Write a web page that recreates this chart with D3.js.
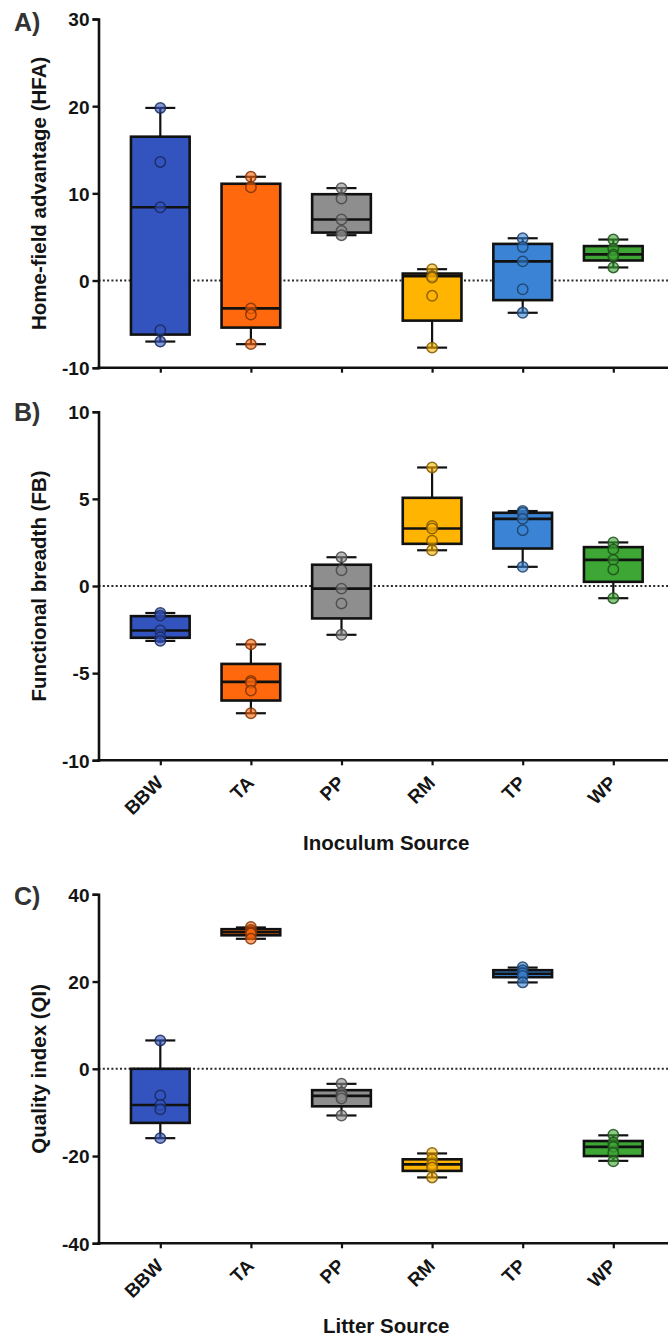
<!DOCTYPE html>
<html>
<head>
<meta charset="utf-8">
<script src="https://cdn.jsdelivr.net/npm/d3@7"></script>
<style>
  html, body { margin: 0; padding: 0; background: #fff; }
  svg text { font-family: "Liberation Sans", Arial, sans-serif; font-weight: bold; }
</style>
</head>
<body>
<svg id="chart" width="669" height="1339"></svg>
<script>
// Sources shared by all three panels
const sources = ["BBW", "TA", "PP", "RM", "TP", "WP"];
const sourceColors = ["#3353BE", "#FF680C", "#8E8E8E", "#FFB402", "#3B84D5", "#3DA635"];

// Panel A: home-field advantage — individual replicates and box stats [min, q1, median, q3, max]
const hfaPoints = [
  [19.8, 13.6, 8.4, -5.7, -7.0],
  [11.9, 10.7, -3.2, -3.9, -7.3],
  [10.6, 9.4, 7.0, 5.7, 5.2],
  [1.3, 0.5, 0.35, -1.75, -7.7],
  [4.85, 3.85, 2.2, -1.0, -3.7],
  [4.7, 3.65, 3.0, 2.8, 1.5]
];
const hfaBoxes = [
  [-7.0, -6.2, 8.4, 16.5, 19.8],
  [-7.3, -5.4, -3.2, 11.1, 11.9],
  [5.2, 5.5, 7.0, 9.9, 10.6],
  [-7.7, -4.6, 0.5, 0.8, 1.3],
  [-3.7, -2.25, 2.2, 4.2, 4.85],
  [1.5, 2.3, 3.0, 3.95, 4.7]
];
const hfaTicks = [-10, 0, 10, 20, 30];

// Panel B: functional breadth
const fbPoints = [
  [-1.55, -1.7, -2.55, -2.95, -3.15],
  [-3.35, -5.45, -5.55, -6.0, -7.3],
  [1.65, 0.9, -0.15, -1.0, -2.8],
  [6.8, 3.45, 3.3, 2.6, 2.05],
  [4.3, 4.2, 3.85, 3.2, 1.1],
  [2.5, 2.1, 1.5, 0.95, -0.7]
];
const fbBoxes = [
  [-3.15, -2.97, -2.55, -1.73, -1.55],
  [-7.3, -6.57, -5.5, -4.47, -3.35],
  [-2.8, -1.86, -0.15, 1.22, 1.65],
  [2.05, 2.42, 3.3, 5.06, 6.8],
  [1.1, 2.15, 3.85, 4.2, 4.3],
  [-0.7, 0.24, 1.5, 2.23, 2.5]
];
const fbTicks = [-10, -5, 0, 5, 10];

// Panel C: litter quality index
const qiPoints = [
  [6.5, -6.1, -8.3, -9.3, -15.9],
  [32.5, 31.8, 31.3, 31.0, 29.8],
  [-3.4, -5.5, -6.2, -6.8, -10.7],
  [-19.3, -20.7, -21.9, -22.6, -24.9],
  [23.3, 22.6, 21.9, 21.3, 19.8],
  [-15.1, -16.9, -17.9, -19.3, -21.2]
];
const qiBoxes = [
  [-15.9, -12.4, -8.3, 0.0, 6.5],
  [29.8, 30.6, 31.3, 32.0, 32.4],
  [-10.7, -8.6, -6.2, -4.9, -3.45],
  [-24.9, -23.4, -21.9, -20.75, -19.4],
  [19.8, 21.0, 21.8, 22.6, 23.2],
  [-21.1, -20.0, -17.9, -16.55, -15.25]
];
const qiTicks = [-40, -20, 0, 20, 40];

const svg = d3.select("#chart");

const axisLeftX = 98.5;
const axisRightX = 668;
const x = d3.scalePoint().domain(sources).range([160.3, 613.3]);
const color = d3.scaleOrdinal().domain(sources).range(sourceColors);

const boxW = 58.7, capW = 30;

const panels = [
  { letter: "A)", title: "Home-field advantage (HFA)", points: hfaPoints, boxes: hfaBoxes,
    ticks: hfaTicks, top: 19, bottom: 367.7, letterY: 31, xLabels: false },
  { letter: "B)", title: "Functional breadth (FB)", points: fbPoints, boxes: fbBoxes,
    ticks: fbTicks, top: 411.7, bottom: 760.3, letterY: 421, xLabels: true,
    xTitle: "Inoculum Source", xTitleY: 850 },
  { letter: "C)", title: "Quality index (QI)", points: qiPoints, boxes: qiBoxes,
    ticks: qiTicks, top: 894.3, bottom: 1243.3, letterY: 905, xLabels: true,
    xTitle: "Litter Source", xTitleY: 1333 }
];

panels.forEach(p => {
  const y = d3.scaleLinear()
    .domain(d3.extent(p.ticks))
    .range([p.bottom, p.top]);
  const g = svg.append("g");

  // dotted zero reference
  g.append("line")
    .attr("x1", axisLeftX).attr("x2", axisRightX)
    .attr("y1", y(0)).attr("y2", y(0))
    .attr("stroke", "#2a2a2a").attr("stroke-width", 2)
    .attr("stroke-dasharray", "2,2.3");

  // boxes and whiskers
  const boxG = g.selectAll("g.box").data(sources).join("g").attr("class", "box");
  boxG.each(function(s, i) {
    const b = p.boxes[i];
    const cx = x(s);
    const sel = d3.select(this);
    const line = "#111";
    // whiskers
    sel.append("line").attr("x1", cx).attr("x2", cx).attr("y1", y(b[4])).attr("y2", y(b[3]))
      .attr("stroke", line).attr("stroke-width", 2.2);
    sel.append("line").attr("x1", cx).attr("x2", cx).attr("y1", y(b[1])).attr("y2", y(b[0]))
      .attr("stroke", line).attr("stroke-width", 2.2);
    // caps
    [b[0], b[4]].forEach(v => {
      sel.append("line").attr("x1", cx - capW / 2).attr("x2", cx + capW / 2)
        .attr("y1", y(v)).attr("y2", y(v))
        .attr("stroke", line).attr("stroke-width", 2.2);
    });
    // box
    sel.append("rect")
      .attr("x", cx - boxW / 2).attr("width", boxW)
      .attr("y", y(b[3])).attr("height", Math.max(0, y(b[1]) - y(b[3])))
      .attr("fill", color(s)).attr("stroke", line).attr("stroke-width", 2.6);
    // median
    sel.append("line").attr("x1", cx - boxW / 2).attr("x2", cx + boxW / 2)
      .attr("y1", y(b[2])).attr("y2", y(b[2]))
      .attr("stroke", line).attr("stroke-width", 2.6);
    // replicate points
    sel.selectAll("circle").data(p.points[i]).join("circle")
      .attr("cx", cx).attr("cy", d => y(d)).attr("r", 5.2)
      .attr("fill", color(s)).attr("fill-opacity", 0.6)
      .attr("stroke", d3.color(color(s)).darker(2)).attr("stroke-opacity", 0.85)
      .attr("stroke-width", 1.5);
  });

  // y axis
  const yAxis = g.append("g")
    .attr("transform", `translate(${axisLeftX},0)`)
    .call(d3.axisLeft(y).tickValues(p.ticks).tickSize(6).tickPadding(3).tickFormat(d => String(d)));
  yAxis.select(".domain").attr("stroke", "#111").attr("stroke-width", 2.6);
  yAxis.selectAll(".tick line").attr("stroke", "#111").attr("stroke-width", 2.4);
  yAxis.selectAll(".tick text").attr("fill", "#141414").style("font-size", "19px")
    .attr("dy", "0.36em");

  // x axis
  const xAxis = g.append("g")
    .attr("transform", `translate(0,${p.bottom})`)
    .call(d3.axisBottom(x).tickSize(5).tickPadding(0));
  xAxis.select(".domain").remove();
  xAxis.selectAll(".tick line").attr("stroke", "#111").attr("stroke-width", 2.2);
  g.append("line")
    .attr("x1", axisLeftX - 1.3).attr("x2", axisRightX)
    .attr("y1", p.bottom).attr("y2", p.bottom)
    .attr("stroke", "#111").attr("stroke-width", 2.6);
  if (p.xLabels) {
    xAxis.selectAll(".tick text")
      .attr("fill", "#141414").style("font-size", "19px")
      .attr("text-anchor", "end")
      .attr("dy", "0.35em").attr("y", 0)
      .attr("transform", "translate(-1,19) rotate(-45)");
  } else {
    xAxis.selectAll(".tick text").remove();
  }

  // y axis title
  g.append("text")
    .attr("transform", `translate(46,${(p.top + p.bottom) / 2}) rotate(-90)`)
    .attr("text-anchor", "middle")
    .attr("fill", "#141414").style("font-size", "20.5px")
    .text(p.title);

  // panel letter
  g.append("text")
    .attr("x", 14).attr("y", p.letterY)
    .attr("fill", "#333").style("font-size", "25px")
    .text(p.letter);

  if (p.xTitle) {
    g.append("text")
      .attr("x", (axisLeftX + axisRightX) / 2 + 3).attr("y", p.xTitleY)
      .attr("text-anchor", "middle")
      .attr("fill", "#141414").style("font-size", "20.5px")
      .text(p.xTitle);
  }
});
</script>
</body>
</html>
